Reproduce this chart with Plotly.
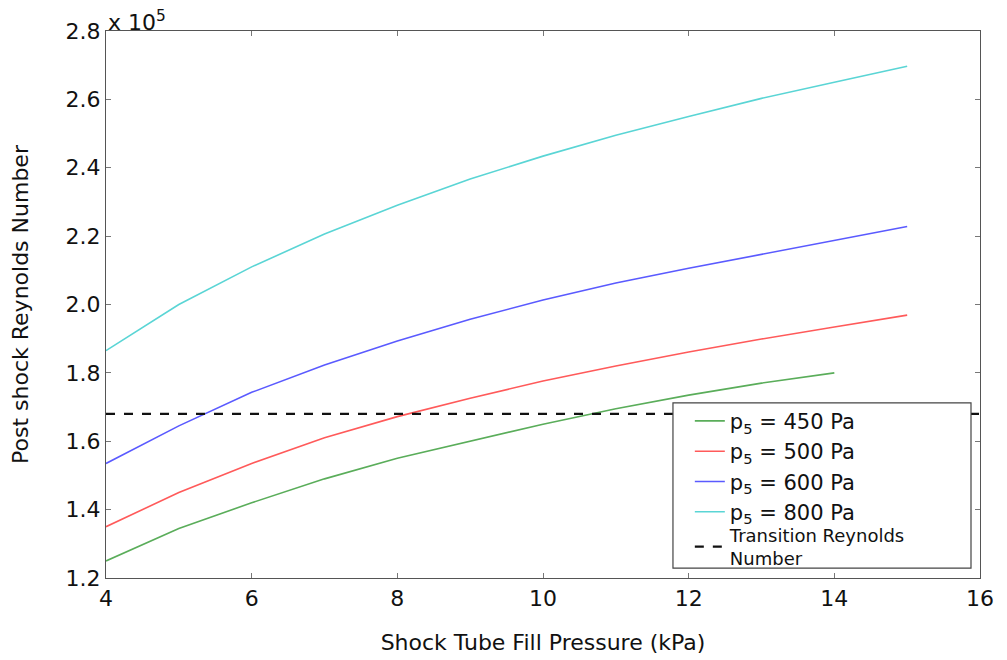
import plotly.graph_objects as go

# fill pressure (kPa)
fill_pressure = [4, 5, 6, 7, 8, 9, 10, 11, 12, 13, 14, 15]

# post shock Reynolds number, in units of 1e5
re_450 = [1.25, 1.345, 1.42, 1.49, 1.55, 1.60, 1.65, 1.695, 1.735, 1.77, 1.80]
re_500 = [1.35, 1.45, 1.535, 1.61, 1.672, 1.726, 1.776, 1.82, 1.861, 1.899, 1.934, 1.969]
re_600 = [1.535, 1.645, 1.743, 1.823, 1.893, 1.957, 2.013, 2.063, 2.106, 2.147, 2.188, 2.228]
re_800 = [1.865, 2.0, 2.11, 2.206, 2.29, 2.367, 2.434, 2.495, 2.55, 2.603, 2.65, 2.697]

transition_x = [4, 16]
transition_re = [1.68, 1.68]

series = [
    ('p<sub>5</sub> = 450 Pa', re_450, '#5aad5a'),
    ('p<sub>5</sub> = 500 Pa', re_500, '#ff5a5a'),
    ('p<sub>5</sub> = 600 Pa', re_600, '#5a5aff'),
    ('p<sub>5</sub> = 800 Pa', re_800, '#5ad5d5'),
]

fig = go.Figure()
for name, vals, col in series:
    fig.add_trace(go.Scatter(x=fill_pressure[:len(vals)], y=vals, mode='lines', name=name,
                             line=dict(color=col, width=1.6)))

# separate legend for the two-line entry, smaller text and tighter lines
fig.add_trace(go.Scatter(x=transition_x, y=transition_re, mode='lines',
                         name='Transition Reynolds<br>Number', legend='legend2',
                         line=dict(color='#111111', width=2.2, dash='dash')))

axis_common = dict(showgrid=False, zeroline=False, showline=True, linecolor='#555555', linewidth=1.2,
                   mirror='allticks', ticks='inside', ticklen=5, tickcolor='#777777', automargin=False,
                   tickfont=dict(size=22, color='#111111'))

fig.update_xaxes(range=[4, 16], tickvals=[4, 6, 8, 10, 12, 14, 16],
                 title=dict(text='Shock Tube Fill Pressure (kPa)', font=dict(size=22, color='#111111'), standoff=25),
                 **axis_common)
fig.update_yaxes(range=[1.2, 2.8], tickvals=[1.2, 1.4, 1.6, 1.8, 2.0, 2.2, 2.4, 2.6, 2.8],
                 tickformat='.1f',
                 title=dict(text='Post shock Reynolds Number', font=dict(size=22, color='#111111'), standoff=30),
                 **axis_common)

fig.add_annotation(text='x 10<sup>5</sup>', xref='paper', yref='paper', x=0.0, y=1.0,
                   xanchor='left', yanchor='bottom', showarrow=False, yshift=-6,
                   font=dict(size=22, color='#111111'))

# legend frame drawn as a box so its size matches the original
fig.add_shape(type='rect', xref='paper', yref='paper', x0=0.6487, x1=0.9897, y0=0.018, y1=0.32,
              line=dict(color='#444444', width=1.2), fillcolor='white', layer='above')

fig.update_layout(
    width=1007, height=660,
    margin=dict(l=98, r=35, t=23, b=90),
    paper_bgcolor='white', plot_bgcolor='white',
    font=dict(family='DejaVu Sans', color='#111111'),
    legend=dict(x=0.668, y=0.324, xanchor='left', yanchor='top',
                bgcolor='rgba(0,0,0,0)', borderwidth=0,
                font=dict(size=21), tracegroupgap=0),
    legend2=dict(x=0.668, y=0.112, xanchor='left', yanchor='top',
                 bgcolor='rgba(0,0,0,0)', borderwidth=0,
                 font=dict(size=18)),
)

fig.write_html("out.html")
